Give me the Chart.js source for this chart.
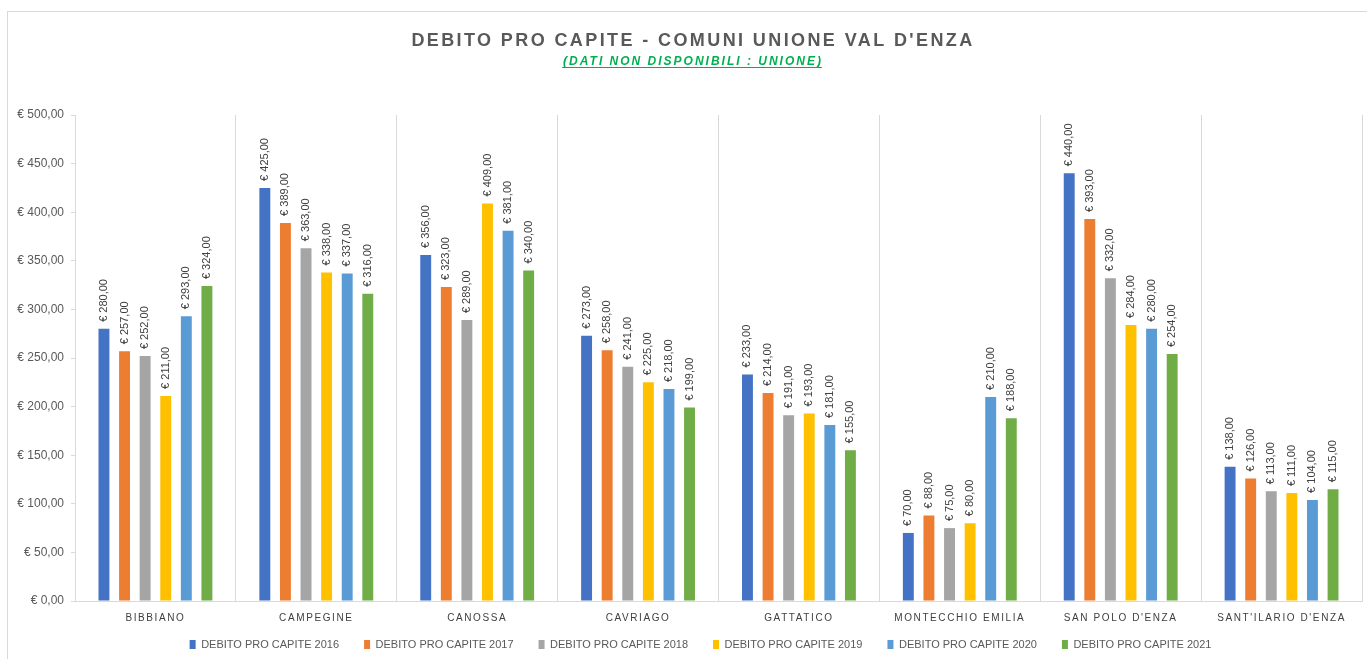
<!DOCTYPE html>
<html>
<head>
<meta charset="utf-8">
<script src="https://cdn.jsdelivr.net/npm/chart.js@4.4.0/dist/chart.umd.min.js"></script>
<style>
    html, body { margin: 0; padding: 0; background: #fff; }
    #wrap { position: relative; width: 1367px; height: 659px; overflow: hidden; }
    #frame { position: absolute; left: 7px; top: 11px; right: -2px; bottom: -2px; border-top: 1px solid #d9d9d9; border-left: 1px solid #d9d9d9; }
    #grafico { position: absolute; left: 0; top: 0; }
</style>
</head>
<body>
<div id="wrap">
    <div id="frame"></div>
    <canvas id="grafico" width="1367" height="659"></canvas>
</div>
<script>
// Dati
const titolo = "DEBITO PRO CAPITE - COMUNI UNIONE VAL D'ENZA";
const sottotitolo = '(DATI NON DISPONIBILI : UNIONE)';

const comuni = ['BIBBIANO', 'CAMPEGINE', 'CANOSSA', 'CAVRIAGO', 'GATTATICO', 'MONTECCHIO EMILIA', "SAN POLO D'ENZA", "SANT'ILARIO D'ENZA"];
const anni = ['2016', '2017', '2018', '2019', '2020', '2021'];

const debito2016 = [280, 425, 356, 273, 233, 70, 440, 138];
const debito2017 = [257, 389, 323, 258, 214, 88, 393, 126];
const debito2018 = [252, 363, 289, 241, 191, 75, 332, 113];
const debito2019 = [211, 338, 409, 225, 193, 80, 284, 111];
const debito2020 = [293, 337, 381, 218, 181, 210, 280, 104];
const debito2021 = [324, 316, 340, 199, 155, 188, 254, 115];

const serie = [debito2016, debito2017, debito2018, debito2019, debito2020, debito2021];
const colori = ['#4472C4', '#ED7D31', '#A5A5A5', '#FFC000', '#5B9BD5', '#70AD47'];

const yTicks = [0, 50, 100, 150, 200, 250, 300, 350, 400, 450, 500];

function euro(v) {
    return '€ ' + v.toFixed(2).replace('.', ',');
}

// titolo + sottotitolo disegnati a mano (serve la spaziatura tra lettere)
const titoloPlugin = {
    id: 'titoloPlugin',
    afterDraw(chart) {
        const ctx = chart.ctx;
        ctx.save();
        ctx.textAlign = 'center';
        ctx.textBaseline = 'alphabetic';
        ctx.fillStyle = '#595959';
        ctx.font = 'bold 18px "Liberation Sans", Arial, sans-serif';
        ctx.letterSpacing = '2.4px';
        ctx.fillText(titolo, 693, 46);

        ctx.fillStyle = '#00B050';
        ctx.font = 'italic bold 12px "Liberation Sans", Arial, sans-serif';
        ctx.letterSpacing = '2px';
        ctx.fillText(sottotitolo, 693, 65);
        const w = ctx.measureText(sottotitolo).width;
        ctx.strokeStyle = '#00B050';
        ctx.lineWidth = 1;
        ctx.beginPath();
        ctx.moveTo(692 - w / 2, 67.5);
        ctx.lineTo(692 + w / 2, 67.5);
        ctx.stroke();
        ctx.restore();
    }
};

// etichette assi: niente ritaglio, lettere spaziate sull'asse x
const etichetteAssi = {
    id: 'etichetteAssi',
    beforeDraw(chart) {
        const sx = chart.scales.x;
        const sy = chart.scales.y;
        sx._computeLabelArea = () => undefined;
        sy._computeLabelArea = () => undefined;
        if (sx._spaziato) return;
        const orig = sx.drawLabels;
        sx.drawLabels = function (area) {
            this.ctx.save();
            this.ctx.letterSpacing = '1.6px';
            orig.call(this, area);
            this.ctx.restore();
        };
        sx._spaziato = true;
    }
};

// valori sopra le barre, ruotati
const etichetteValori = {
    id: 'etichetteValori',
    afterDatasetsDraw(chart) {
        const ctx = chart.ctx;
        ctx.save();
        ctx.font = '11px "Liberation Sans", Arial, sans-serif';
        ctx.fillStyle = '#404040';
        ctx.textAlign = 'left';
        ctx.textBaseline = 'middle';
        chart.data.datasets.forEach((ds, i) => {
            const meta = chart.getDatasetMeta(i);
            meta.data.forEach((bar, j) => {
                ctx.save();
                ctx.translate(bar.x, bar.y - 7);
                ctx.rotate(-Math.PI / 2);
                ctx.fillText(euro(ds.data[j]), 0, 0);
                ctx.restore();
            });
        });
        ctx.restore();
    }
};

const ctx = document.getElementById('grafico').getContext('2d');
new Chart(ctx, {
    type: 'bar',
    data: {
        labels: comuni,
        datasets: serie.map((d, i) => ({
            label: 'DEBITO PRO CAPITE ' + anni[i],
            data: d,
            backgroundColor: colori[i],
            borderWidth: 0,
            categoryPercentage: 0.768,
            barPercentage: 0.53
        }))
    },
    options: {
        responsive: false,
        animation: false,
        events: [],
        layout: { padding: { top: 115, right: 5, left: 39, bottom: -1 } },
        plugins: {
            title: { display: false },
            tooltip: { enabled: false },
            legend: {
                position: 'bottom',
                labels: {
                    boxWidth: 6,
                    boxHeight: 9,
                    padding: 25,
                    color: '#595959',
                    font: { family: '"Liberation Sans", Arial, sans-serif', size: 11 }
                }
            }
        },
        scales: {
            x: {
                grid: { offset: true, color: '#d9d9d9', drawTicks: false },
                border: { display: true, color: '#d9d9d9' },
                ticks: {
                    color: '#404040',
                    padding: 11,
                    maxRotation: 0,
                    font: { family: '"Liberation Sans", Arial, sans-serif', size: 10 }
                },
                afterFit(scale) { scale.height = 13; }
            },
            y: {
                min: 0,
                max: 500,
                afterBuildTicks(scale) { scale.ticks = yTicks.map(v => ({ value: v })); },
                grid: { drawOnChartArea: false, drawTicks: true, tickLength: 4, color: '#d9d9d9' },
                border: { display: true, color: '#d9d9d9' },
                ticks: {
                    color: '#595959',
                    padding: 7,
                    font: { family: '"Liberation Sans", Arial, sans-serif', size: 12 },
                    callback: v => euro(v)
                },
                afterFit(scale) { scale.width = 36; }
            }
        }
    },
    plugins: [titoloPlugin, etichetteAssi, etichetteValori]
});
</script>
</body>
</html>
